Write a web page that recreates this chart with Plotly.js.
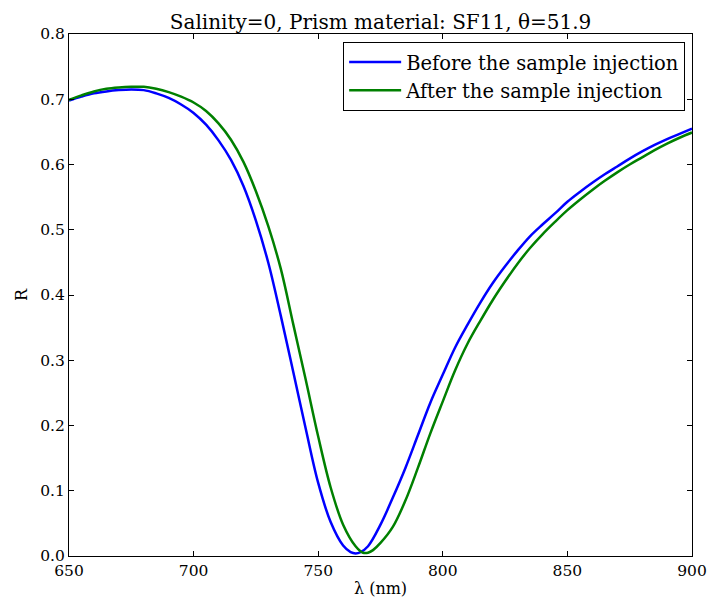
<!DOCTYPE html>
<html>
<head>
<meta charset="utf-8">
<script src="https://cdn.plot.ly/plotly-3.0.1.min.js"></script>
<style>html,body{margin:0;padding:0;background:#fff;}#chart{width:709px;height:608px;}</style>
</head>
<body>
<div id="chart"></div>
<script>
const wavelengthBefore = [650,655,660,665,670,675,680,685,690,695,700,705,710,715,720,725,730,735,740,745,750,755,760,763,765,767,770,775,780,785,790,795,800,805,810,815,820,825,830,835,840,845,850,855,860,865,870,875,880,885,890,895,900];
const reflBefore = [0.698,0.704,0.709,0.712,0.714,0.715,0.714,0.709,0.702,0.692,0.679,0.661,0.637,0.607,0.567,0.514,0.449,0.368,0.282,0.195,0.112,0.052,0.016,0.006,0.004,0.006,0.015,0.048,0.090,0.135,0.185,0.235,0.278,0.320,0.355,0.388,0.418,0.444,0.468,0.490,0.508,0.525,0.543,0.558,0.572,0.585,0.597,0.609,0.620,0.630,0.639,0.647,0.655];

const wavelengthAfter = [650,655,660,665,670,675,680,685,690,695,700,705,710,715,720,725,730,735,740,745,750,755,760,765,768,770,772,775,780,785,790,795,800,805,810,815,820,825,830,835,840,845,850,855,860,865,870,875,880,885,890,895,900];
const reflAfter = [0.699,0.706,0.712,0.716,0.718,0.719,0.719,0.716,0.711,0.704,0.695,0.682,0.663,0.638,0.604,0.559,0.505,0.440,0.355,0.270,0.183,0.105,0.048,0.015,0.005,0.005,0.009,0.020,0.045,0.085,0.135,0.188,0.237,0.285,0.326,0.360,0.392,0.421,0.448,0.472,0.493,0.512,0.530,0.546,0.561,0.575,0.588,0.600,0.611,0.622,0.632,0.641,0.649];

const seriesNames = ["Before the sample injection", "After the sample injection"];
const titleText = "Salinity=0, Prism material: SF11, θ=51.9";
const xTicks = [650,700,750,800,850,900];
const yTicks = [0.0,0.1,0.2,0.3,0.4,0.5,0.6,0.7,0.8];

const serif = "DejaVu Serif, serif";

const traces = [
  {x: wavelengthBefore, y: reflBefore, name: seriesNames[0], mode: "lines",
   line: {color: "#0000ff", width: 2.5, shape: "spline", smoothing: 1}},
  {x: wavelengthAfter, y: reflAfter, name: seriesNames[1], mode: "lines",
   line: {color: "#008000", width: 2.5, shape: "spline", smoothing: 1}}
];

const axisCommon = {
  showgrid: false, zeroline: false, showline: true, linecolor: "#000", linewidth: 1,
  mirror: "ticks", ticks: "inside", ticklen: 5, tickwidth: 1, tickcolor: "#000",
  tickfont: {family: serif, size: 15.5, color: "#000"}
};

const layout = {
  width: 709, height: 608,
  margin: {l: 69, r: 17, t: 34, b: 52},
  paper_bgcolor: "#fff", plot_bgcolor: "#fff",
  title: {text: titleText, font: {family: serif, size: 20, color: "#000"},
          x: 0.5, xref: "paper", xanchor: "center", y: 1, yref: "paper", yanchor: "bottom", pad: {b: 5}},
  xaxis: Object.assign({}, axisCommon, {
    range: [650, 900], tickvals: xTicks, ticktext: xTicks.map(String),
    title: {text: "λ (nm)", font: {family: serif, size: 16, color: "#000"}, standoff: 4}
  }),
  yaxis: Object.assign({}, axisCommon, {
    range: [0, 0.8], tickvals: yTicks, ticktext: yTicks.map(v => v.toFixed(1)),
    title: {text: "R", font: {family: serif, size: 16, color: "#000"}, standoff: 8}
  }),
  showlegend: true,
  legend: {x: 0.989, y: 0.985, xanchor: "right", yanchor: "top",
           bgcolor: "#fff", bordercolor: "#000", borderwidth: 1, itemwidth: 52,
           font: {family: serif, size: 19.5, color: "#000"}, tracegroupgap: 4}
};

Plotly.newPlot("chart", traces, layout, {displayModeBar: false, staticPlot: true});
</script>
</body>
</html>
